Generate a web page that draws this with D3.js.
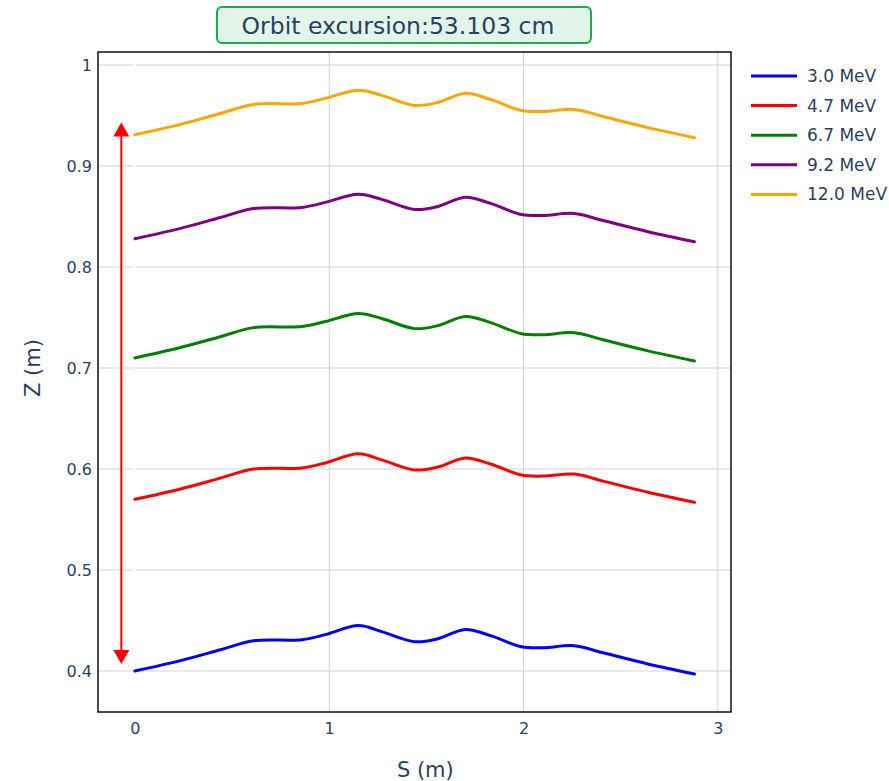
<!DOCTYPE html>
<html>
<head>
<meta charset="utf-8">
<script src="https://cdn.jsdelivr.net/npm/d3@7"></script>
<style>
  body { margin: 0; background: #fff; }
  text { font-family: "DejaVu Sans", Verdana, sans-serif; fill: #2a3f5f; }
</style>
</head>
<body>
<script>
var width = 889,
    height = 781;

// data
var s = [0, 0.23, 0.44, 0.61, 0.86, 0.98, 1.15, 1.27, 1.44, 1.56, 1.70, 1.83, 1.99, 2.10, 2.26, 2.41, 2.64, 2.88];
var energies = ["3.0 MeV", "4.7 MeV", "6.7 MeV", "9.2 MeV", "12.0 MeV"];
var colors = ["blue", "red", "green", "purple", "orange"];
var z3 = [0.400, 0.410, 0.421, 0.430, 0.431, 0.436, 0.445, 0.439, 0.429, 0.432, 0.441, 0.435, 0.424, 0.423, 0.425, 0.418, 0.407, 0.397];
var z47 = [0.570, 0.580, 0.591, 0.600, 0.601, 0.606, 0.615, 0.609, 0.599, 0.602, 0.611, 0.605, 0.594, 0.593, 0.595, 0.588, 0.577, 0.567];
var z67 = [0.710, 0.720, 0.731, 0.740, 0.741, 0.746, 0.754, 0.749, 0.739, 0.742, 0.751, 0.745, 0.734, 0.733, 0.735, 0.728, 0.717, 0.707];
var z92 = [0.828, 0.838, 0.849, 0.858, 0.859, 0.864, 0.872, 0.867, 0.857, 0.860, 0.869, 0.863, 0.852, 0.851, 0.853, 0.846, 0.835, 0.825];
var z12 = [0.931, 0.941, 0.952, 0.961, 0.962, 0.967, 0.975, 0.970, 0.960, 0.963, 0.972, 0.966, 0.955, 0.954, 0.956, 0.949, 0.938, 0.928];
var xTicks = [0, 1, 2, 3];
var yTicks = [0.4, 0.5, 0.6, 0.7, 0.8, 0.9, 1];
var excursion = "Orbit excursion:53.103 cm";
var arrowS = -0.07, arrowTop = 0.943, arrowBottom = 0.407;

var series = [z3, z47, z67, z92, z12].map(function(z, i) {
    return { name: energies[i], color: colors[i], values: z };
});

var margin = {left: 98, right: 158, top: 52, bottom: 69};

var svg = d3.select("body").append("svg")
    .attr("width", width)
    .attr("height", height);

var x = d3.scaleLinear().domain([-0.19, 3.068]).range([margin.left, width - margin.right]);
var y = d3.scaleLinear().domain([0.3594, 1.0129]).range([height - margin.bottom, margin.top]);

// grid
svg.append("g").selectAll("line.gx")
    .data(xTicks.filter(function(d) { return d !== 0; }))
    .enter().append("line")
    .attr("x1", function(d) { return x(d); })
    .attr("x2", function(d) { return x(d); })
    .attr("y1", margin.top).attr("y2", height - margin.bottom)
    .attr("stroke", "#d3d3d3").attr("stroke-width", 1);

svg.append("g").selectAll("line.gy")
    .data(yTicks)
    .enter().append("line")
    .attr("x1", margin.left).attr("x2", width - margin.right)
    .attr("y1", function(d) { return y(d); })
    .attr("y2", function(d) { return y(d); })
    .attr("stroke", "#d3d3d3").attr("stroke-width", 1);

// zero line (white)
svg.append("line")
    .attr("x1", x(0)).attr("x2", x(0))
    .attr("y1", margin.top).attr("y2", height - margin.bottom)
    .attr("stroke", "#fff").attr("stroke-width", 2);

// axes
var xAxis = svg.append("g")
    .attr("transform", "translate(0," + (height - margin.bottom) + ")")
    .call(d3.axisBottom(x).tickValues(xTicks).tickSize(0).tickPadding(11).tickFormat(d3.format("d")));
var yAxis = svg.append("g")
    .attr("transform", "translate(" + margin.left + ",0)")
    .call(d3.axisLeft(y).tickValues(yTicks).tickSize(0).tickPadding(6).tickFormat(function(d) { return d === 1 ? "1" : d3.format(".1f")(d); }));
[xAxis, yAxis].forEach(function(a) {
    a.select(".domain").remove();
    a.selectAll("text").style("font-size", "16px").attr("fill", "#2a3f5f");
});

// frame
svg.append("rect")
    .attr("x", margin.left).attr("y", margin.top)
    .attr("width", width - margin.left - margin.right)
    .attr("height", height - margin.top - margin.bottom)
    .attr("fill", "none").attr("stroke", "#111").attr("stroke-width", 1.5);

// lines
var line = d3.line()
    .x(function(d, i) { return x(s[i]); })
    .y(function(d) { return y(d); })
    .curve(d3.curveCatmullRom.alpha(0.5));

svg.append("g").selectAll("path")
    .data(series)
    .enter().append("path")
    .attr("d", function(d) { return line(d.values); })
    .attr("fill", "none")
    .attr("stroke", function(d) { return d.color; })
    .attr("stroke-width", 3)
    .attr("stroke-linecap", "round")
    .attr("stroke-linejoin", "round");

// double arrow
var ax = x(arrowS), yTop = y(arrowTop), yBot = y(arrowBottom);
svg.append("line")
    .attr("x1", ax).attr("x2", ax)
    .attr("y1", yTop + 12).attr("y2", yBot - 12)
    .attr("stroke", "red").attr("stroke-width", 2);
svg.append("path")
    .attr("d", "M" + ax + "," + yTop + "L" + (ax - 8) + "," + (yTop + 14) + "L" + (ax + 8) + "," + (yTop + 14) + "Z")
    .attr("fill", "red");
svg.append("path")
    .attr("d", "M" + ax + "," + yBot + "L" + (ax - 8) + "," + (yBot - 14) + "L" + (ax + 8) + "," + (yBot - 14) + "Z")
    .attr("fill", "red");

// axis titles
svg.append("text")
    .attr("x", x(1.5) - 1).attr("y", 777)
    .attr("text-anchor", "middle")
    .style("font-size", "21px")
    .text("S (m)");
svg.append("text")
    .attr("transform", "translate(40," + y(0.7) + ") rotate(-90)")
    .attr("text-anchor", "middle")
    .style("font-size", "21px")
    .text("Z (m)");

// title box
svg.append("rect")
    .attr("x", 217).attr("y", 7)
    .attr("width", 374).attr("height", 36)
    .attr("rx", 5)
    .attr("fill", "#e3f5ea")
    .attr("stroke", "#1aae48").attr("stroke-width", 2);
svg.append("text")
    .attr("x", 398).attr("y", 34)
    .attr("text-anchor", "middle")
    .style("font-size", "23.5px")
    .text(excursion);

// legend
var legend = svg.append("g").selectAll("g")
    .data(series)
    .enter().append("g")
    .attr("transform", function(d, i) { return "translate(751," + (76 + i * 29.6) + ")"; });
legend.append("line")
    .attr("x1", 0).attr("x2", 46)
    .attr("stroke", function(d) { return d.color; })
    .attr("stroke-width", 3);
legend.append("text")
    .attr("x", 56).attr("y", 6)
    .style("font-size", "17px")
    .text(function(d) { return d.name; });
</script>
</body>
</html>
